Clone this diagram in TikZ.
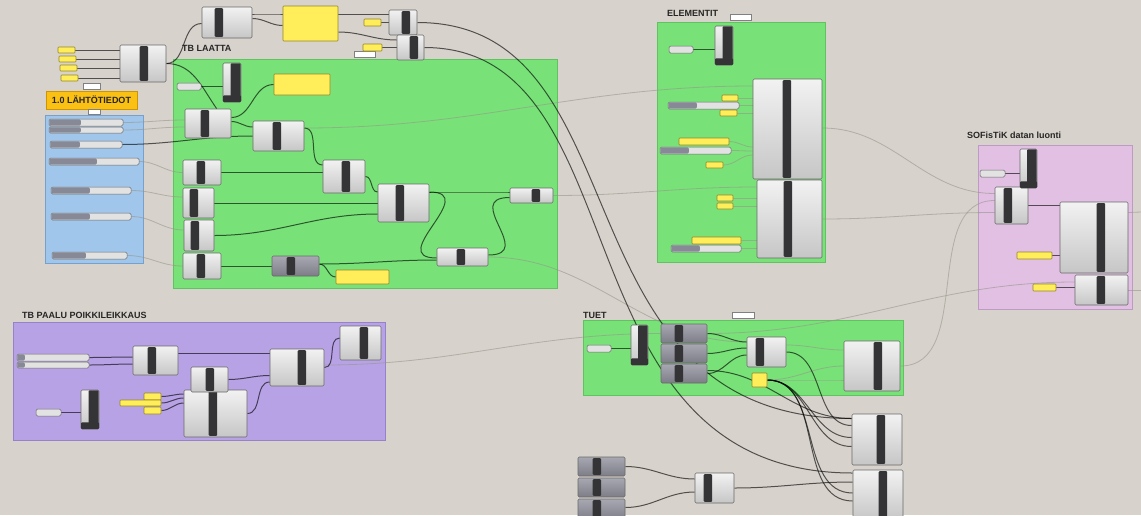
\documentclass[tikz,border=0pt]{standalone}
\usepackage{fontspec}
\setmainfont{Liberation Sans}
\usetikzlibrary{calc,fit}
\pgfdeclarelayer{grpl}
\pgfdeclarelayer{wirel}
\pgfsetlayers{grpl,wirel,main}
\definecolor{bgc}{RGB}{215,210,203}
\definecolor{grn}{RGB}{120,226,120}
\definecolor{grnb}{RGB}{95,195,95}
\definecolor{blu}{RGB}{160,198,236}
\definecolor{blub}{RGB}{120,160,205}
\definecolor{pur}{RGB}{184,162,230}
\definecolor{purb}{RGB}{150,130,200}
\definecolor{pnk}{RGB}{226,192,228}
\definecolor{pnkb}{RGB}{190,155,195}
\definecolor{ylw}{RGB}{255,238,90}
\definecolor{ylwb}{RGB}{150,135,40}
\definecolor{org}{RGB}{250,192,20}
\definecolor{orgb}{RGB}{205,150,0}
\definecolor{ctop}{RGB}{242,242,242}
\definecolor{cbot}{RGB}{198,198,198}
\definecolor{cline}{RGB}{105,105,105}
\definecolor{dtop}{RGB}{168,168,178}
\definecolor{dbot}{RGB}{125,125,135}
\definecolor{barc}{RGB}{52,52,55}
\definecolor{sldl}{RGB}{226,226,226}
\definecolor{sldd}{RGB}{135,138,150}
\definecolor{lblc}{RGB}{38,38,38}
\definecolor{fntc}{RGB}{150,150,140}

\newcommand{\gcomp}[7][comp]{%
  \node[#1, fit={(#3,#4) (#5,#6)}] (#2) {};
  \fill[barc, rounded corners=1pt] ($(#2.north west)+(#7-#3,1.5)$) rectangle ($(#2.south west)+(#7-#3+8.5,-1.5)$);
}
\newcommand{\tgl}[5]{%
  \node[comp, fit={(#2,#3) (#4,#5)}] (#1) {};
  \fill[barc, rounded corners=1pt] ($(#1.north)+(-1.5,0.6)$) rectangle ($(#1.south east)+(-0.6,-0.6)$);
  \fill[barc, rounded corners=1pt] ($(#1.south west)+(0.3,-7)$) rectangle ($(#1.south east)+(-0.3,-0.3)$);
}
\newcommand{\sldr}[6]{%
  \node[sld, fit={(#2,#3) (#4,#5)}] (#1) {};
  \fill[sldd, rounded corners=1.2pt] ($(#1.north west)+(0.6,0.6)$) rectangle ($(#1.south west)+(#6-#2,-0.6)$);
}
\newcommand{\prm}[5]{\node[sld, fit={(#2,#3) (#4,#5)}] (#1) {};}
\newcommand{\ypan}[5]{\node[panel, fit={(#2,#3) (#4,#5)}] (#1) {};}
\newcommand{\tagb}[5]{\node[tagbox, fit={(#2,#3) (#4,#5)}] (#1) {};}

\begin{document}
\begin{tikzpicture}[x=1pt,y=-1pt,
  comp/.style={draw=cline,line width=0.6pt,rounded corners=1.2pt,top color=ctop,bottom color=cbot,inner sep=0pt},
  dcomp/.style={comp,top color=dtop,bottom color=dbot},
  sld/.style={draw=cline,line width=0.5pt,rounded corners=1.5pt,fill=sldl,inner sep=0pt},
  panel/.style={draw=ylwb,line width=0.6pt,rounded corners=0.8pt,fill=ylw,inner sep=0pt},
  tagbox/.style={draw=gray,line width=0.5pt,fill=white,inner sep=0pt},
  wire/.style={line width=1pt,draw=black,draw opacity=0.62},
  faint/.style={line width=0.8pt,draw=fntc,draw opacity=0.6},
  lbl/.style={font=\bfseries\fontsize{9}{10}\selectfont,text=lblc,anchor=west,inner sep=0pt},
  grp/.style={line width=0.8pt}]
\useasboundingbox (0,0) rectangle (1141,515);

\begin{pgfonlayer}{grpl}
\fill[bgc] (0,0) rectangle (1141,515);
\filldraw[grp,fill=blu,draw=blub] (45,115) rectangle (143,263);
\filldraw[grp,fill=grn,draw=grnb] (173,59) rectangle (557,288);
\filldraw[grp,fill=grn,draw=grnb] (657,22) rectangle (825,262);
\filldraw[grp,fill=pnk,draw=pnkb] (978,145) rectangle (1132,309);
\filldraw[grp,fill=pur,draw=purb] (13,322) rectangle (385,440);
\filldraw[grp,fill=grn,draw=grnb] (583,320) rectangle (903,395);
\end{pgfonlayer}

% labels
\node[lbl] (lbl1) at (182,48) {TB LAATTA};
\node[lbl] (lbl2) at (667,13.5) {ELEMENTIT};
\node[lbl] (lbl3) at (967,135) {SOFisTiK datan luonti};
\node[lbl] (lbl4) at (22,315.5) {TB PAALU POIKKILEIKKAUS};
\node[lbl] (lbl5) at (583,315) {TUET};
\node[draw=orgb,fill=org,line width=0.6pt,minimum width=91pt,minimum height=18pt,inner sep=0pt,
      font=\bfseries\fontsize{9}{10}\selectfont,text=lblc] (ol) at (91.5,100) {1.0 LÄHTÖTIEDOT};
\tagb{tg_a}{83}{83}{100}{89}
\tagb{tg_b}{88}{109}{100}{114}
\tagb{tg_c}{354}{51}{375}{57}
\tagb{tg_d}{730}{14}{751}{20}
\tagb{tg_e}{732}{312}{754}{318}

% top-left
\ypan{ya}{58}{47}{75}{53}
\ypan{yb}{59}{56}{76}{62}
\ypan{yc}{60}{65}{77}{71}
\ypan{yd}{61}{75}{78}{81}
\gcomp{tl}{120}{45}{166}{82}{140}

% blue sliders
\sldr{s1}{49}{119}{123}{126}{81}
\sldr{s2}{49}{127}{123}{133}{81}
\sldr{s3}{50}{141}{122}{148}{80}
\sldr{s4}{49}{158}{139}{165}{97}
\sldr{s5}{51}{187}{131}{194}{90}
\sldr{s6}{51}{213}{131}{220}{90}
\sldr{s7}{52}{252}{127}{259}{86}

% top row
\gcomp{t1}{202}{7}{252}{38}{215}
\ypan{tp}{283}{6}{338}{41}
\ypan{ty1}{364}{19}{381}{26}
\gcomp{t2}{389}{10}{417}{35}{402}
\ypan{ty2}{363}{44}{382}{51}
\gcomp{t3}{397}{35}{424}{60}{410}

% TB LAATTA
\prm{p1}{177}{83}{201}{90}
\tgl{tg1}{223}{63}{241}{102}
\ypan{yp1}{274}{74}{330}{95}
\gcomp{A}{185}{109}{231}{138}{201}
\gcomp{B}{253}{121}{304}{151}{273}
\gcomp{C}{183}{160}{221}{185}{197}
\gcomp{D}{323}{160}{365}{193}{342}
\gcomp{E}{183}{188}{214}{218}{190}
\gcomp{F}{184}{220}{214}{251}{191}
\gcomp{G}{378}{184}{429}{222}{396}
\gcomp{H}{510}{188}{553}{203}{532}
\gcomp{I}{183}{253}{221}{279}{197}
\gcomp[dcomp]{J}{272}{256}{319}{276}{287}
\ypan{yp2}{336}{270}{389}{284}
\gcomp{K}{437}{248}{488}{266}{457}

% ELEMENTIT
\prm{ep}{669}{46}{693}{53}
\tgl{etg}{715}{26}{733}{65}
\gcomp{EC1}{753}{79}{822}{179}{783}
\gcomp{EC2}{757}{180}{822}{258}{784}
\ypan{ey1}{722}{95}{738}{101}
\sldr{es1}{668}{102}{739}{109}{697}
\ypan{ey2}{720}{110}{737}{116}
\ypan{ey3}{679}{138}{729}{145}
\sldr{es2}{660}{147}{731}{154}{689}
\ypan{ey4}{706}{162}{723}{168}
\ypan{ey5}{717}{195}{733}{201}
\ypan{ey6}{717}{203}{733}{209}
\ypan{ey7}{692}{237}{741}{244}
\sldr{es3}{671}{245}{741}{252}{700}

% SOFiSTiK
\prm{sp}{980}{170}{1005}{177}
\gcomp{SC1}{995}{187}{1028}{224}{1004}
\tgl{stg}{1020}{149}{1037}{188}
\gcomp{SC2}{1060}{202}{1128}{273}{1097}
\gcomp{SC3}{1075}{275}{1128}{305}{1097}
\ypan{sy1}{1017}{252}{1052}{259}
\ypan{sy2}{1033}{284}{1056}{291}
\coordinate (e1) at (1141,212);
\coordinate (e2) at (1141,290);

% PAALU
\sldr{ps1}{17}{354}{89}{361}{25}
\sldr{ps2}{17}{362}{89}{368}{25}
\gcomp{PA}{133}{346}{178}{375}{148}
\gcomp{PB}{270}{349}{324}{386}{298}
\gcomp{PC}{340}{326}{381}{360}{360}
\gcomp{PE}{184}{390}{247}{437}{209}
\gcomp{PD}{191}{367}{228}{392}{206}
\tgl{ptg}{81}{390}{99}{429}
\prm{pp}{36}{409}{61}{416}
\ypan{py1}{144}{393}{161}{400}
\ypan{py2}{120}{400}{161}{406}
\ypan{py3}{144}{407}{161}{414}

% TUET
\prm{tpp}{587}{345}{611}{352}
\tgl{ttg}{631}{325}{648}{365}
\gcomp[dcomp]{TS1}{661}{324}{707}{343}{675}
\gcomp[dcomp]{TS2}{661}{344}{707}{363}{675}
\gcomp[dcomp]{TS3}{661}{364}{707}{383}{675}
\gcomp{TC}{747}{337}{786}{367}{756}
\ypan{TY}{752}{373}{767}{387}
\gcomp{TB}{844}{341}{900}{391}{874}
\gcomp{BR1}{852}{414}{902}{465}{877}
\gcomp{BR2}{853}{470}{903}{520}{879}
\gcomp[dcomp]{BL1}{578}{457}{625}{476}{593}
\gcomp[dcomp]{BL2}{578}{478}{625}{497}{593}
\gcomp[dcomp]{BL3}{578}{499}{625}{520}{593}
\gcomp{BC}{695}{473}{734}{503}{704}

\begin{pgfonlayer}{wirel}
% faint wires
\draw[faint] (s1.east) to[out=0,in=180] ($(A.west)+(0,-3.5)$);
\draw[faint] (s2.east) to[out=0,in=180] ($(A.west)+(0,3.5)$);
\draw[faint] (s4.east) to[out=0,in=180] (C.west);
\draw[faint] (s5.east) to[out=0,in=180] ($(E.west)+(0,-6)$);
\draw[faint] (s6.east) to[out=0,in=180] ($(F.west)+(0,-5.5)$);
\draw[faint] (s7.east) to[out=0,in=180] (I.west);
\draw[faint] ($(B.east)+(0,-8)$) to[out=0,in=180] ($(EC1.west)+(0,-43)$);
\draw[faint] (H.east) to[out=0,in=180] ($(EC2.west)+(0,-32)$);
\draw[faint] (K.east) to[out=0,in=180] ($(TC.west)+(0,-10)$);
\draw[faint] ($(PB.east)+(0,-2.5)$) to[out=0,in=180] (TS1.west);
\draw[faint] (TS1.east) to[out=0,in=180] ($(SC3.west)+(0,-8)$);
\draw[faint] ($(EC1.east)+(0,-1)$) to[out=0,in=180] ($(SC1.west)+(0,-12)$);
\draw[faint] (EC2.east) to[out=0,in=180] ($(SC1.west)+(0,7)$);
\draw[faint] (TB.east) to[out=0,in=180] ($(SC1.west)+(0,-5)$);
\draw[faint] ($(SC2.east)+(0,-25)$) -- (e1);
\draw[faint] (SC3.east) -- (e2);
\draw[faint] ($(TC.east)+(0,-7)$) to[out=0,in=180] ($(TB.west)+(0,-16)$);
\draw[faint] (TY.east) to[out=0,in=180] (TB.west);
\draw[faint] (TY.east) to[out=0,in=180] ($(TB.west)+(0,14)$);
\draw[faint] (ey1.east) -- (ey1.east -| EC1.west);
\draw[faint] (es1.east) -- (es1.east -| EC1.west);
\draw[faint] (ey2.east) -- (ey2.east -| EC1.west);
\draw[faint] (ey3.east) to[out=0,in=180] ($(EC1.west)+(0,18)$);
\draw[faint] (es2.east) to[out=0,in=180] ($(EC1.west)+(0,22)$);
\draw[faint] (ey4.east) to[out=0,in=180] ($(EC1.west)+(0,26)$);
\draw[faint] (ey5.east) -- (ey5.east -| EC2.west);
\draw[faint] (ey6.east) -- (ey6.east -| EC2.west);
\draw[faint] (ey7.east) -- (ey7.east -| EC2.west);
\draw[faint] (es3.east) -- (es3.east -| EC2.west);

% top-left and top row
\draw[wire] (ya.east) -- (ya.east -| tl.west);
\draw[wire] (yb.east) -- (yb.east -| tl.west);
\draw[wire] (yc.east) -- (yc.east -| tl.west);
\draw[wire] (yd.east) -- (yd.east -| tl.west);
\draw[wire] (tl.east) to[out=0,in=180] ($(t1.west)+(0,1)$);
\draw[wire] (tl.east) to[out=0,in=125] ($(A.north west)+(32,0)$);
\draw[wire] ($(t1.east)+(0,-8.5)$) to[out=0,in=180] ($(tp.west)+(0,-9.5)$);
\draw[wire] ($(t1.east)+(0,-4)$) to[out=0,in=180] ($(tp.west)+(0,2)$);
\draw[wire] ($(tp.east)+(0,-9.5)$) -- ($(t2.west)+(0,-8.5)$);
\draw[wire] ($(tp.east)+(0,8.5)$) to[out=0,in=180] ($(t3.west)+(0,-7.5)$);
\draw[wire] (ty1.east) -- (ty1.east -| t2.west);
\draw[wire] (ty2.east) -- (ty2.east -| t3.west);
\draw[wire] (t2.east) .. controls +(230,0) and +(-300,0) .. ($(BR1.west)+(0,-21)$);
\draw[wire] (t3.east) .. controls +(220,0) and +(-300,0) .. ($(BR2.west)+(0,-22)$);

% TB LAATTA
\draw[wire] (p1.east) -- (p1.east -| tg1.west);
\draw[wire] ($(A.east)+(0,-6)$) to[out=0,in=180] (yp1.west);
\draw[wire] ($(A.east)+(0,-2)$) to[out=0,in=180] ($(B.west)+(0,-9)$);
\draw[wire] (s3.east) to[out=0,in=180] (B.west);
\draw[wire] ($(B.east)+(0,-8)$) to[out=0,in=180] ($(D.west)+(0,-11.5)$);
\draw[wire] (C.east) -- (C.east -| D.west);
\draw[wire] (D.east) to[out=0,in=180] ($(G.west)+(0,-11)$);
\draw[wire] (E.east) -- (E.east -| G.west);
\draw[wire] (F.east) to[out=0,in=180] ($(G.west)+(0,11)$);
\draw[wire] ($(G.east)+(0,-11)$) to[out=0,in=180] ($(H.west)+(0,-3.5)$);
\draw[wire] ($(G.east)+(0,-11)$) to[out=0,in=180,looseness=2] ($(K.west)+(0,1)$);
\draw[wire] ($(K.east)+(0,-2)$) to[out=0,in=180,looseness=2] ($(H.west)+(0,2)$);
\draw[wire] (I.east) -- (I.east -| J.west);
\draw[wire] ($(J.east)+(0,-2)$) to[out=0,in=180] (yp2.west);
\draw[wire] ($(J.east)+(0,-2)$) to[out=0,in=180] ($(K.west)+(0,3)$);

% ELEMENTIT
\draw[wire] (ep.east) -- (ep.east -| etg.west);

% SOFiSTiK
\draw[wire] (sp.east) -- (sp.east -| stg.west);
\draw[wire] (SC1.east) -- (SC1.east -| SC2.west);
\draw[wire] (sy1.east) -- (sy1.east -| SC2.west);
\draw[wire] (sy2.east) -- (sy2.east -| SC3.west);

% PAALU
\draw[wire] (ps1.east) to[out=0,in=180] ($(PA.west)+(0,-3.5)$);
\draw[wire] (ps2.east) to[out=0,in=180] ($(PA.west)+(0,3.5)$);
\draw[wire] ($(PA.east)+(0,-7.5)$) -- ($(PB.west)+(0,-14.5)$);
\draw[wire] (PD.east) to[out=0,in=180] ($(PB.west)+(0,8)$);
\draw[wire] (PE.east) to[out=0,in=180] ($(PB.west)+(0,14.5)$);
\draw[wire] (PB.east) to[out=0,in=180] ($(PC.west)+(0,-5)$);
\draw[wire] (py1.east) to[out=0,in=180] ($(PE.west)+(0,-19.5)$);
\draw[wire] (py2.east) to[out=0,in=180] ($(PE.west)+(0,-15.5)$);
\draw[wire] (py3.east) to[out=0,in=180] ($(PE.west)+(0,-10.5)$);
\draw[wire] (pp.east) -- (pp.east -| ptg.west);

% TUET
\draw[wire] (tpp.east) -- (tpp.east -| ttg.west);
\draw[wire] (TS1.east) to[out=0,in=180] ($(TC.west)+(0,-10)$);
\draw[wire] (TS2.east) to[out=0,in=180] ($(TC.west)+(0,-4)$);
\draw[wire] (TS3.east) to[out=0,in=180] ($(TC.west)+(0,3)$);
\draw[wire] ($(TS3.east)+(0,-3)$) to[out=0,in=180] ($(BR1.west)+(0,-21)$);
\draw[wire] (TC.east) to[out=0,in=180] ($(BR1.west)+(0,-14)$);
\draw[wire] (TY.east) to[out=0,in=180] ($(BR1.west)+(0,-2)$);
\draw[wire] (TY.east) to[out=0,in=180] ($(BR1.west)+(0,7)$);
\draw[wire] (TY.east) to[out=0,in=180] ($(BR2.west)+(0,-2)$);
\draw[wire] (TY.east) to[out=0,in=180] ($(BR2.west)+(0,6)$);
\draw[wire] (BC.east) to[out=0,in=180] ($(BR2.west)+(0,-13)$);
\draw[wire] (BL1.east) to[out=0,in=180] ($(BC.west)+(0,-9)$);
\draw[wire] ($(BL3.east)+(0,-2)$) to[out=0,in=180] ($(BC.west)+(0,4)$);
\end{pgfonlayer}
\end{tikzpicture}
\end{document}
